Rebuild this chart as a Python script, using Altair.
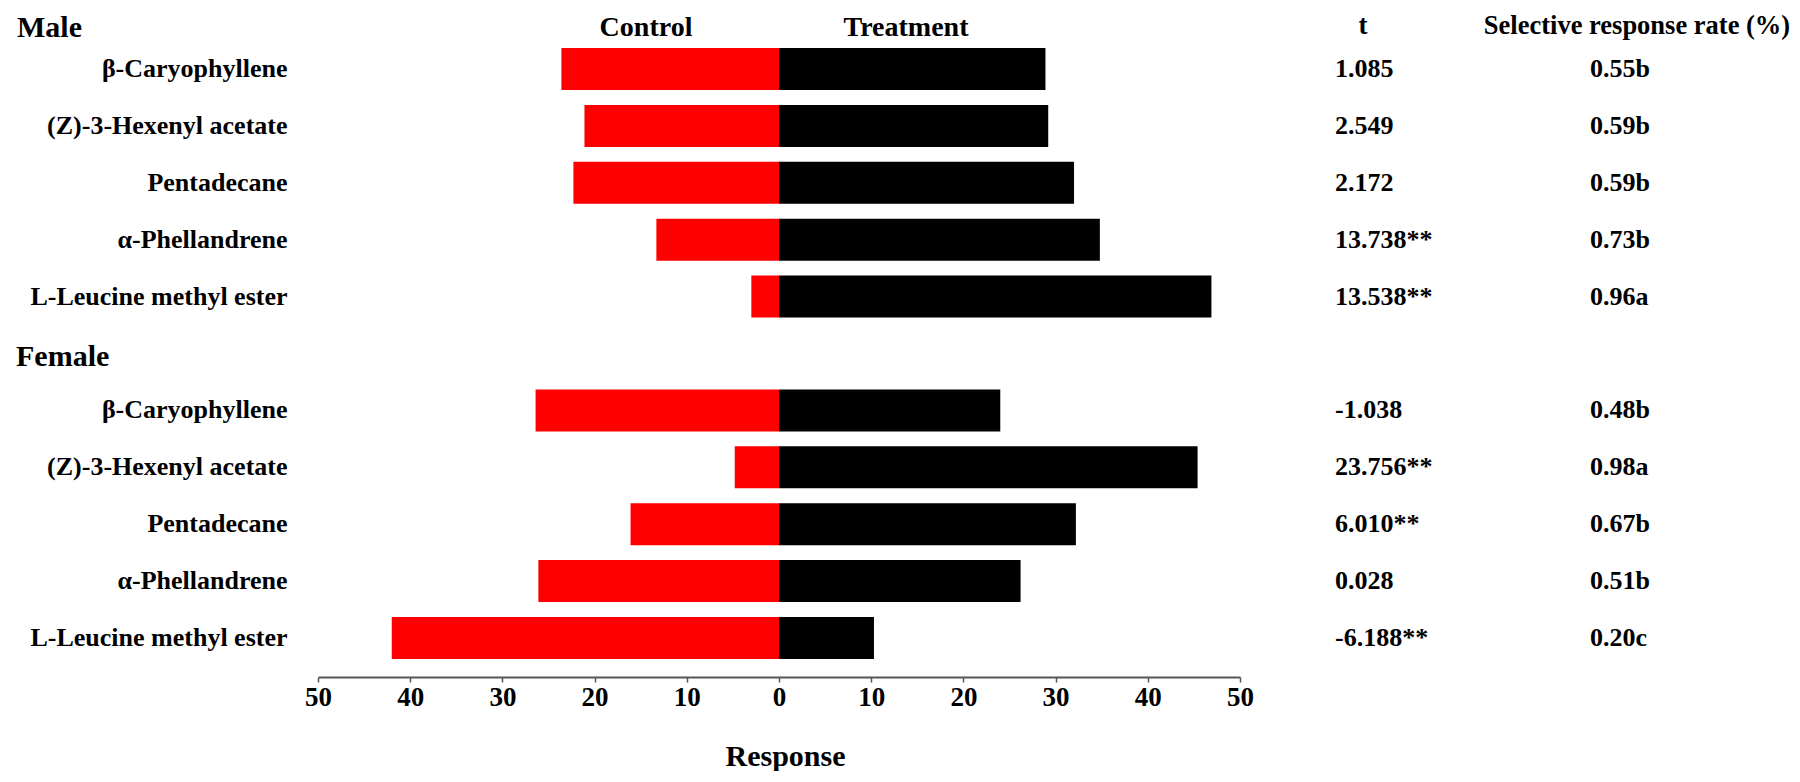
import altair as alt
import pandas as pd

# ---------------- data ----------------
compounds = ["β-Caryophyllene", "(Z)-3-Hexenyl acetate", "Pentadecane",
             "α-Phellandrene", "L-Leucine methyl ester"]

male_control = [23.6, 21.1, 22.3, 13.3, 3.0]
male_treatment = [28.9, 29.2, 32.0, 34.8, 46.9]
female_control = [26.4, 4.8, 16.1, 26.1, 42.0]
female_treatment = [24.0, 45.4, 32.2, 26.2, 10.3]

male_t = ["1.085", "2.549", "2.172", "13.738**", "13.538**"]
female_t = ["-1.038", "23.756**", "6.010**", "0.028", "-6.188**"]
male_rate = ["0.55b", "0.59b", "0.59b", "0.73b", "0.96a"]
female_rate = ["0.48b", "0.98a", "0.67b", "0.51b", "0.20c"]

group_titles = ["Male", "Female"]
side_names = ["Control", "Treatment"]
column_titles = ["t", "Selective response rate (%)"]
axis_title = "Response"
x_ticks = [-50, -40, -30, -20, -10, 0, 10, 20, 30, 40, 50]

# ---------------- tables ----------------
bar_rows, table_rows = [], []
groups = [("M", male_control, male_treatment, male_t, male_rate),
          ("F", female_control, female_treatment, female_t, female_rate)]
domain = []
for tag, ctrl, trt, tv, rv in groups:
    if tag == "F":
        domain.append(group_titles[1] + "|H")
    for name, c, t, tt, r in zip(compounds, ctrl, trt, tv, rv):
        key = f"{name}|{tag}"
        domain.append(key)
        bar_rows.append({"key": key, "start": -c, "end": 0, "side": side_names[0]})
        bar_rows.append({"key": key, "start": 0, "end": t, "side": side_names[1]})
        table_rows.append({"key": key, "t": tt, "rate": r})

bars_df = pd.DataFrame(bar_rows)
table_df = pd.DataFrame(table_rows)
female_df = pd.DataFrame({"key": [group_titles[1] + "|H"], "label": [group_titles[1]]})

FONT = "Liberation Serif"

yscale = alt.Scale(domain=domain, range=[40, 651], paddingInner=0.262, paddingOuter=0)
yenc = alt.Y(
    "key:N", scale=yscale,
    axis=alt.Axis(
        orient="left", offset=-279, domain=False, ticks=False, tickSize=0,
        labelPadding=0, grid=False, title=None, labelLimit=0,
        labelExpr="split(datum.value,'|')[1] == 'H' ? '' : split(datum.value,'|')[0]",
        labelFont=FONT, labelFontSize=26, labelFontWeight="bold", labelColor="black",
        labelOverlap=False,
    ),
)

xscale = alt.Scale(domain=[-50, 50], range=[310, 1232], nice=False, zero=False)
xaxis = alt.Axis(
    values=x_ticks, labelExpr="abs(datum.value)", grid=False,
    domainColor="#555555", domainWidth=2, tickColor="#555555", tickWidth=1.5,
    tickSize=5, labelPadding=2, labelFont=FONT, labelFontSize=27,
    labelFontWeight="bold", labelColor="black", labelFlush=False, labelOverlap=False,
    title=axis_title, titleFont=FONT, titleFontSize=30, titleFontWeight="bold",
    titleColor="black", titlePadding=31, titleX=777,
)

bars = alt.Chart(bars_df).mark_bar().encode(
    x=alt.X("start:Q", scale=xscale, axis=xaxis),
    x2="end:Q",
    y=yenc,
    color=alt.Color("side:N", scale=alt.Scale(domain=side_names, range=["#ff0000", "#000000"]),
                    legend=None),
)

txt = dict(font=FONT, fontWeight="bold", color="black")

t_text = alt.Chart(table_df).mark_text(align="left", baseline="middle", fontSize=26, **txt).encode(
    x=alt.value(1327), y=yenc, text="t:N")
rate_text = alt.Chart(table_df).mark_text(align="left", baseline="middle", fontSize=26, **txt).encode(
    x=alt.value(1582), y=yenc, text="rate:N")
female_text = alt.Chart(female_df).mark_text(align="left", baseline="middle", dy=3, fontSize=30, **txt).encode(
    x=alt.value(8), y=yenc, text="label:N")


def header(label, x, y, size, align):
    return alt.Chart(pd.DataFrame({"label": [label]})).mark_text(
        align=align, baseline="alphabetic", fontSize=size, **txt
    ).encode(x=alt.value(x), y=alt.value(y), text="label:N")


headers = [
    header(group_titles[0], 9, 29, 30, "left"),
    header(side_names[0], 638, 28, 28, "center"),
    header(side_names[1], 898, 28, 28, "center"),
    header(column_titles[0], 1355, 26, 27, "center"),
    header(column_titles[1], 1629, 26, 26.5, "center"),
]

chart = alt.layer(bars, t_text, rate_text, female_text, *headers).properties(
    width=1784, height=669, padding=0, background="white"
).configure_view(strokeWidth=0, strokeOpacity=0)

chart.save("out.html", embed_options={"renderer": "svg", "actions": False})
